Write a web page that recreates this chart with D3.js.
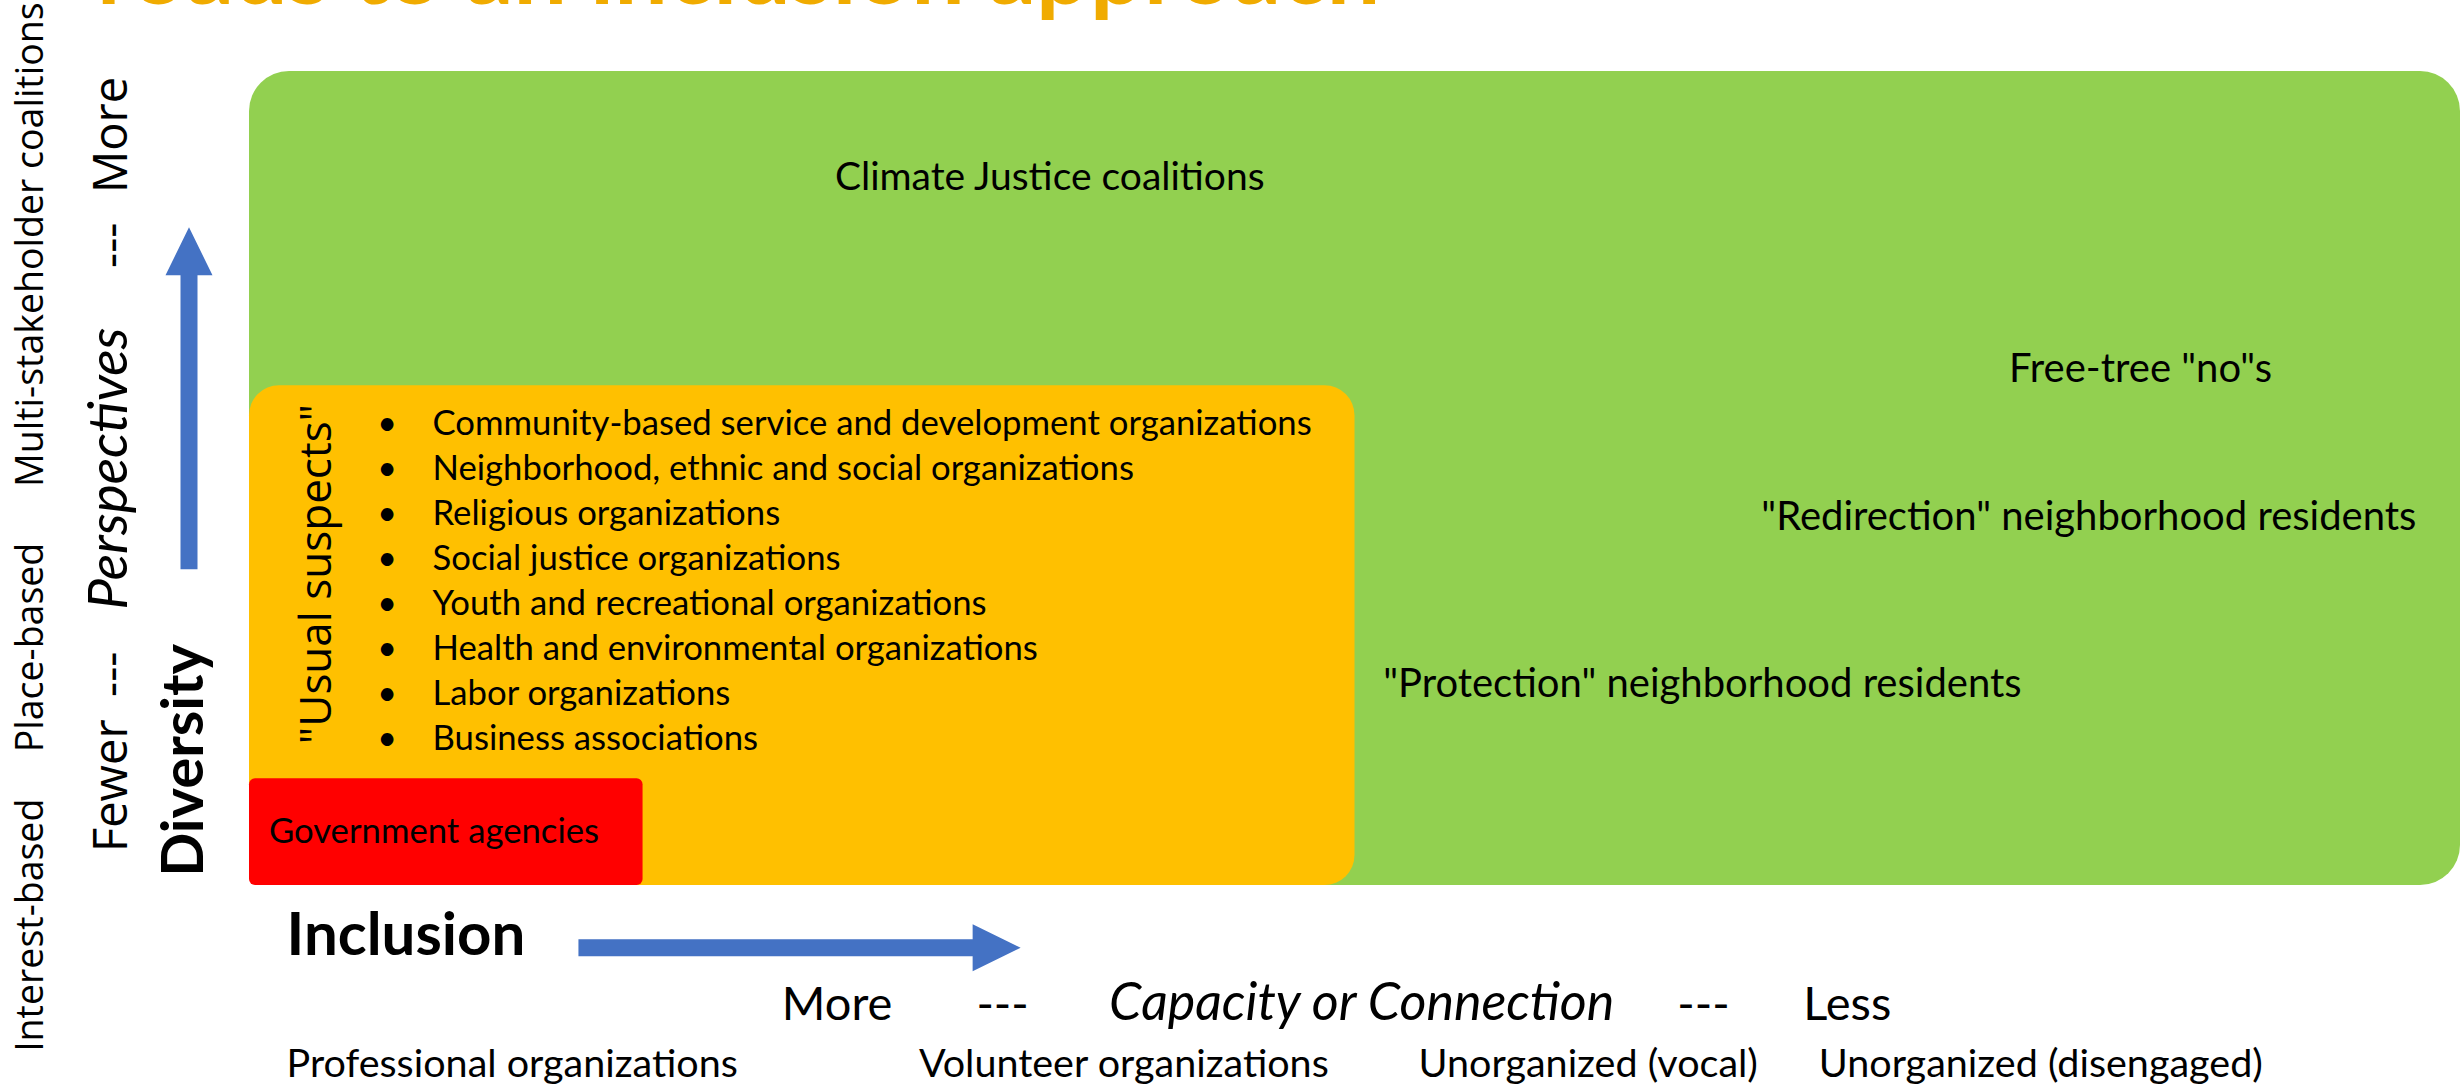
<html>
  <head>
    <title>Inclusion approach</title>
    <style>
      body { margin: 0; background: #ffffff; }
      text { font-family: Lato, "Open Sans", sans-serif; fill: #000000; }
      text.wide { font-family: "Open Sans", Lato, sans-serif; }
    </style>
  </head>
  <body>
    <script src="https://d3js.org/d3.v7.min.js"></script>
    <script>
      (function() {
        var WIDTH = 2463;
        var HEIGHT = 1087;

        // Zones: how far each group reaches along inclusion (x) and diversity (y), 0-100
        var zones = ['Climate Justice coalitions', '"Usual suspects"', 'Government agencies'];
        var zoneInclusion = [100, 50, 17.8];
        var zoneDiversity = [100, 61.4, 13.1];
        var zoneLabelInclusion = [26.5, 3.7, 0.9];
        var zoneLabelDiversity = [85.4, 38.2, 5.2];

        // The "usual suspects" list
        var suspects = [
          'Community-based service and development organizations',
          'Neighborhood, ethnic and social organizations',
          'Religious organizations',
          'Social justice organizations',
          'Youth and recreational organizations',
          'Health and environmental organizations',
          'Labor organizations',
          'Business associations'
        ];

        // Resident groups placed in the big zone
        var residents = ['Free-tree "no"s', '"Redirection" neighborhood residents', '"Protection" neighborhood residents'];
        var residentInclusion = [79.6, 68.4, 51.3];
        var residentDiversity = [61.8, 43.6, 23.1];

        // Inclusion axis labels
        var capacityLabels = ['More', '---', 'Capacity or Connection', '---', 'Less'];
        var capacityInclusion = [24.1, 32.9, 38.9, 64.6, 70.3];
        var orgTypes = ['Professional organizations', 'Volunteer organizations', 'Unorganized (vocal)', 'Unorganized (disengaged)'];
        var orgInclusion = [1.7, 30.3, 52.9, 71.0];

        // Diversity axis labels (start of each rotated label)
        var perspectiveLabels = ['Fewer', '---', 'Perspectives', '---', 'More'];
        var perspectiveDiversity = [4.05, 23.1, 33.8, 75.8, 85.0];
        var structureTypes = ['Interest-based', 'Place-based', 'Multi-stakeholder coalitions'];
        var structureDiversity = [-20.5, 16.3, 48.9];

        var colors = {
          zones: ['#92D050', '#FFC000', '#FF0000'],
          arrow: '#4472C4',
          title: '#F0AB00'
        };
        var zoneRadius = [40, 30, 6];

        var x = d3.scaleLinear().domain([0, 100]).range([249, 2460]);
        var y = d3.scaleLinear().domain([0, 100]).range([885, 71]);

        var svg = d3.select('body')
          .append('svg')
          .attr('width', WIDTH)
          .attr('height', HEIGHT);

        // Title, mostly cut off by the top edge
        svg.append('text')
          .text('roads to an inclusion approach')
          .attr('x', 97)
          .attr('y', 4)
          .style('font-size', '95px')
          .style('font-weight', 'bold')
          .style('fill', colors.title);

        // Zone boxes
        svg.selectAll('rect.zone')
          .data(zones)
          .enter()
          .append('rect')
          .attr('class', 'zone')
          .attr('x', x(0))
          .attr('y', function(d, i) { return y(zoneDiversity[i]); })
          .attr('width', function(d, i) { return x(zoneInclusion[i]) - x(0); })
          .attr('height', function(d, i) { return y(0) - y(zoneDiversity[i]); })
          .attr('rx', function(d, i) { return zoneRadius[i]; })
          .style('fill', function(d, i) { return colors.zones[i]; });

        // Zone labels
        svg.append('text')
          .text(zones[0])
          .attr('x', x(zoneLabelInclusion[0]))
          .attr('y', y(zoneLabelDiversity[0]))
          .style('font-size', '39px');

        svg.append('text')
          .attr('class', 'wide')
          .text(zones[1])
          .attr('text-anchor', 'middle')
          .attr('transform', 'translate(' + x(zoneLabelInclusion[1]) + ',' + y(zoneLabelDiversity[1]) + ') rotate(-90)')
          .style('font-size', '44px');

        svg.append('text')
          .text(zones[2])
          .attr('x', x(zoneLabelInclusion[2]))
          .attr('y', y(zoneLabelDiversity[2]))
          .style('font-size', '34.7px');

        // Bullet list
        var listY = d3.scalePoint().domain(suspects).range([y(55.3), y(16.6)]);

        var items = svg.selectAll('g.item')
          .data(suspects)
          .enter()
          .append('g')
          .attr('class', 'item')
          .attr('transform', function(d) { return 'translate(0,' + listY(d) + ')'; });

        items.append('text')
          .text('\u2022')
          .attr('x', x(5.8))
          .style('font-size', '34px');

        items.append('text')
          .text(function(d) { return d; })
          .attr('x', x(8.3))
          .style('font-size', '34.7px');

        // Residents
        svg.selectAll('text.resident')
          .data(residents)
          .enter()
          .append('text')
          .attr('class', 'resident')
          .text(function(d) { return d; })
          .attr('x', function(d, i) { return x(residentInclusion[i]); })
          .attr('y', function(d, i) { return y(residentDiversity[i]); })
          .style('font-size', '40px');

        // Arrows
        function arrow(x1, y1, x2, y2, shaft, headW, headL) {
          var a = Math.atan2(y2 - y1, x2 - x1);
          var len = Math.hypot(x2 - x1, y2 - y1);
          var pts = [
            [0, -shaft / 2], [len - headL, -shaft / 2], [len - headL, -headW / 2],
            [len, 0],
            [len - headL, headW / 2], [len - headL, shaft / 2], [0, shaft / 2]
          ];
          svg.append('path')
            .attr('d', d3.line()(pts) + 'Z')
            .attr('transform', 'translate(' + x1 + ',' + y1 + ') rotate(' + (a * 180 / Math.PI) + ')')
            .style('fill', colors.arrow);
        }

        arrow(189, y(38.8), 189, y(80.8), 17, 47, 48);
        arrow(x(14.9), y(-7.7), x(34.9), y(-7.7), 17, 47, 48);

        // Diversity axis
        function rotated(text, px, py, size, weight, style, cls) {
          svg.append('text')
            .attr('class', cls || null)
            .text(text)
            .attr('transform', 'translate(' + px + ',' + py + ') rotate(-90)')
            .style('font-size', size + 'px')
            .style('font-weight', weight || 'normal')
            .style('font-style', style || 'normal');
        }

        structureTypes.forEach(function(d, i) {
          rotated(d, 43, y(structureDiversity[i]), 37.5, 'normal', 'normal', 'wide');
        });

        perspectiveLabels.forEach(function(d, i) {
          if (d === 'Perspectives') {
            rotated(d, 127, y(perspectiveDiversity[i]), 55, 'normal', 'italic');
          } else {
            rotated(d, 127, y(perspectiveDiversity[i]), 47, 'normal', 'normal', 'wide');
          }
        });

        rotated('Diversity', 203, y(1.0), 58, 'bold');

        // Inclusion axis
        svg.append('text')
          .text('Inclusion')
          .attr('x', x(1.7))
          .attr('y', y(-8.6))
          .style('font-size', '60px')
          .style('font-weight', 'bold');

        svg.selectAll('text.capacity')
          .data(capacityLabels)
          .enter()
          .append('text')
          .attr('class', 'capacity')
          .text(function(d) { return d; })
          .attr('x', function(d, i) { return x(capacityInclusion[i]); })
          .attr('y', 1020)
          .style('font-size', function(d) { return d === 'Capacity or Connection' ? '52px' : '47px'; })
          .style('font-style', function(d) { return d === 'Capacity or Connection' ? 'italic' : 'normal'; });

        svg.selectAll('text.org')
          .data(orgTypes)
          .enter()
          .append('text')
          .attr('class', 'org')
          .text(function(d) { return d; })
          .attr('x', function(d, i) { return x(orgInclusion[i]); })
          .attr('y', 1077)
          .style('font-size', '39.5px');
      })();
    </script>
  </body>
</html>
